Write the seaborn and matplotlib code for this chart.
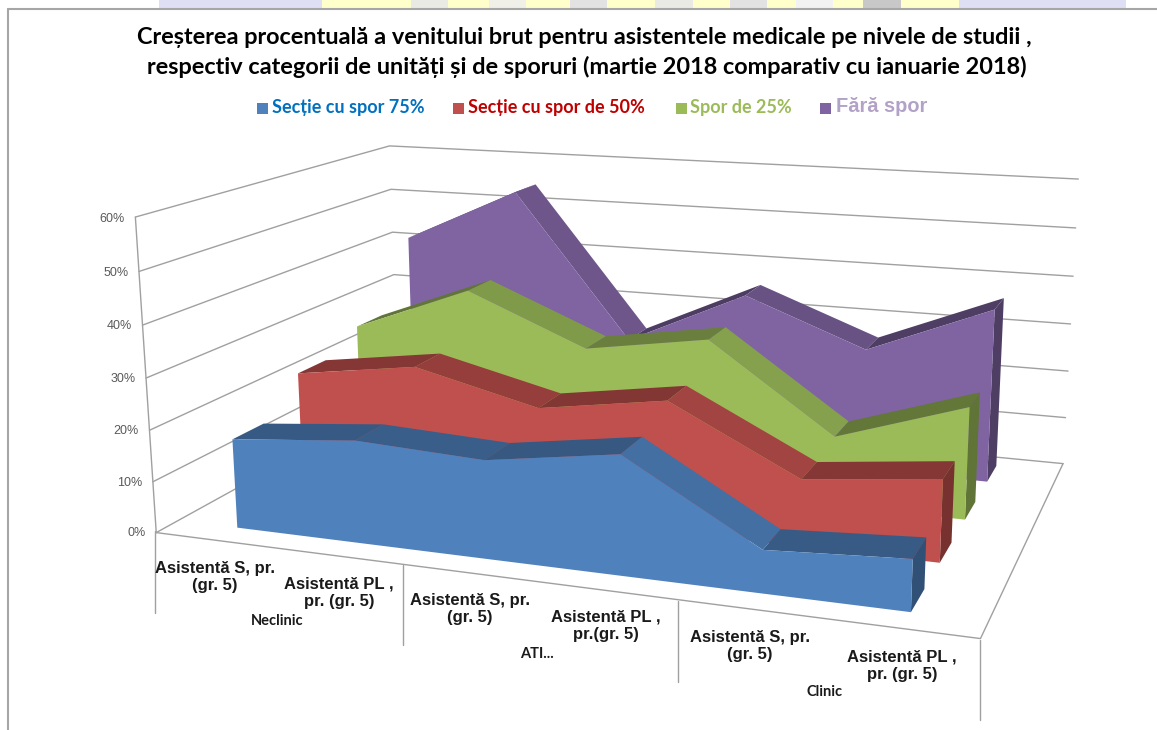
import numpy as np
import matplotlib
matplotlib.use("Agg")
import matplotlib.pyplot as plt
import seaborn as sns
from matplotlib.lines import Line2D
from mpl_toolkits.mplot3d import proj3d
from mpl_toolkits.mplot3d.art3d import Poly3DCollection

categories = ["Asistentă S, pr.\n(gr. 5)", "Asistentă PL ,\npr. (gr. 5)", "Asistentă S, pr.\n(gr. 5)",
              "Asistentă PL ,\npr.(gr. 5)", "Asistentă S, pr.\n(gr. 5)", "Asistentă PL ,\npr. (gr. 5)"]
groups = ["Neclinic", "ATI...", "Clinic"]
series = ["Secție cu spor 75%", "Secție cu spor de 50%", "Spor de 25%", "Fără spor"]
sectie75 = [17.4, 19.7, 18.6, 22.3, 7.9, 9.4]
sectie50 = [24, 27.5, 21.6, 25.4, 12.9, 15.7]
spor25 = [28, 37.5, 27.4, 31.3, 14, 22.3]
fara = [42.5, 54, 23.5, 35, 25.5, 35.8]
yticks = [0, 10, 20, 30, 40, 50, 60]

sns.set_theme(style="white")
colors = sns.color_palette(["#4F81BD", "#C0504D", "#9BBB59", "#8064A2"])
W, H = 1157, 730
grid_c = "#A0A0A0"

fig = plt.figure(figsize=(W / 100, H / 100), dpi=100)
# camera fitted to the corners of the chart box
ax = fig.add_axes([137.44 / W, -115.81 / H, 966.48 / W, 966.48 / H], projection="3d", computed_zorder=False)
ax.set_xlim(-0.5, 5.5)
ax.set_ylim(0, 4)
ax.set_zlim(0, 60)
ax.view_init(elev=13.82, azim=-70.157, roll=0.156)
ax.set_proj_type("persp", focal_length=0.3636)
ax.set_box_aspect((1, 0.6493, 0.388))
ax.set_axis_off()

M = ax.get_proj()
for v in yticks:
    ax.plot([-.5, -.5, 5.5], [0, 4, 4], [v, v, v], color=grid_c, lw=1, zorder=1, clip_on=False)
    px, py, _ = proj3d.proj_transform(-.59, 0, v - .4, M)
    ax.text2D(px, py, f"{v}%", transform=ax.transData, ha="right", va="center", color="#595959", fontsize=9,
              family="Liberation Sans", clip_on=False)
ax.plot([-.5, -.5], [0, 0], [0, 60], color=grid_c, lw=1, zorder=1, clip_on=False)
ax.plot([-.5, 5.5, 5.5], [0, 0, 4], [0, 0, 0], color=grid_c, lw=1, zorder=1, clip_on=False)

xs = np.arange(6)
depth = .45
for k, vals in enumerate([sectie75, sectie50, spor25, fara]):
    y0 = k + .30
    y1 = y0 + depth
    z = 10 * (4 - k)
    c = np.array(colors[k])
    for i in range(5):
        f = np.clip(.72 - .01 * (vals[i + 1] - vals[i]), .6, .86)
        quad = [(xs[i], y0, vals[i]), (xs[i + 1], y0, vals[i + 1]), (xs[i + 1], y1, vals[i + 1]), (xs[i], y1, vals[i])]
        ax.add_collection3d(Poly3DCollection([quad], facecolors=[c * f], edgecolors="none", zorder=z))
    side_face = [(5, y0, 0), (5, y1, 0), (5, y1, vals[5]), (5, y0, vals[5])]
    ax.add_collection3d(Poly3DCollection([side_face], facecolors=[c * .62], edgecolors="none", zorder=z + 1))
    front = [(xs[i], y0, vals[i]) for i in range(6)] + [(5, y0, 0), (0, y0, 0)]
    ax.add_collection3d(Poly3DCollection([front], facecolors=[c], edgecolors="none", zorder=z + 2))


def hline(x0, y0, x1, y1, color=grid_c, lw=1):
    fig.add_artist(Line2D([x0 / W, x1 / W], [1 - y0 / H, 1 - y1 / H], color=color, lw=lw))


# category separators under the floor
for sx, y0, y1 in [(155, 531, 613), (403, 565, 645), (678, 601, 682), (980, 640, 720)]:
    hline(sx, y0, sx, y1)

# page frame and the cut off page header behind the chart
band_x = [159, 322, 411, 448, 489, 526, 570, 607, 655, 693, 730, 767, 796, 833, 863, 901, 959]
band_c = ["#DEDEF5", "#FFFFCC", "#EAEAE4", "#FFFFCC", "#F0F0E8", "#FFFFCC", "#E2E2E2", "#FFFFCC", "#EAEAE4",
          "#FFFFCC", "#E2E2E2", "#FFFFCC", "#F2F2F2", "#FFFFCC", "#C8C8C8", "#FFFFCC"]
for i, col in enumerate(band_c):
    fig.patches.append(plt.Rectangle((band_x[i] / W, 1 - 9 / H), (band_x[i + 1] - band_x[i]) / W, 9 / H,
                                     transform=fig.transFigure, facecolor=col, edgecolor="none"))
fig.patches.append(plt.Rectangle((959 / W, 1 - 9 / H), 167 / W, 9 / H, transform=fig.transFigure,
                                 facecolor="#DEDEF5", edgecolor="none"))
hline(8, 730, 8, 9, color="#A6A6A6", lw=1.5)
hline(8, 9, 1157, 9, color="#A6A6A6", lw=1.5)

fig.text(584 / W, 1 - 37 / H, "Creșterea procentuală a venitului brut pentru asistentele medicale pe nivele de studii ,",
         ha="center", va="center", fontsize=16.9, fontweight="bold", family="Lato", color="black")
fig.text(587 / W, 1 - 67 / H, "respectiv categorii de unități și de sporuri (martie 2018 comparativ cu ianuarie 2018)",
         ha="center", va="center", fontsize=16.9, fontweight="bold", family="Lato", color="black")

leg_x = [257, 453, 676, 820]
txt_x = [272, 468, 690, 836]
txt_y = [108, 108, 108, 106]
leg_c = ["#0070C0", "#C00000", "#9BBB59", "#B3A2C7"]
for i in range(4):
    fig.patches.append(plt.Rectangle((leg_x[i] / W, 1 - 114 / H), 11 / W, 11 / H, transform=fig.transFigure,
                                     facecolor=colors[i], edgecolor="none"))
    fig.text(txt_x[i] / W, 1 - txt_y[i] / H, series[i], ha="left", va="center", color=leg_c[i],
             fontsize=14.4 if i == 3 else 13, fontweight="bold",
             family="Liberation Sans" if i == 3 else "Lato")

cat_x = [215, 339, 470, 606, 750, 902]
cat_y = [577, 593, 609, 626, 646, 666]
for t, cx, cy in zip(categories, cat_x, cat_y):
    fig.text(cx / W, 1 - cy / H, t, ha="center", va="center", fontsize=12, fontweight="bold",
             family="Liberation Sans", color="#1A1A1A", linespacing=1.22)
for t, cx, cy in zip(groups, [277, 537, 825], [621, 654, 692]):
    fig.text(cx / W, 1 - cy / H, t, ha="center", va="center", fontsize=10.5, fontweight="bold", family="Lato",
             color="#1A1A1A")

fig.savefig("out.png", dpi=100)
